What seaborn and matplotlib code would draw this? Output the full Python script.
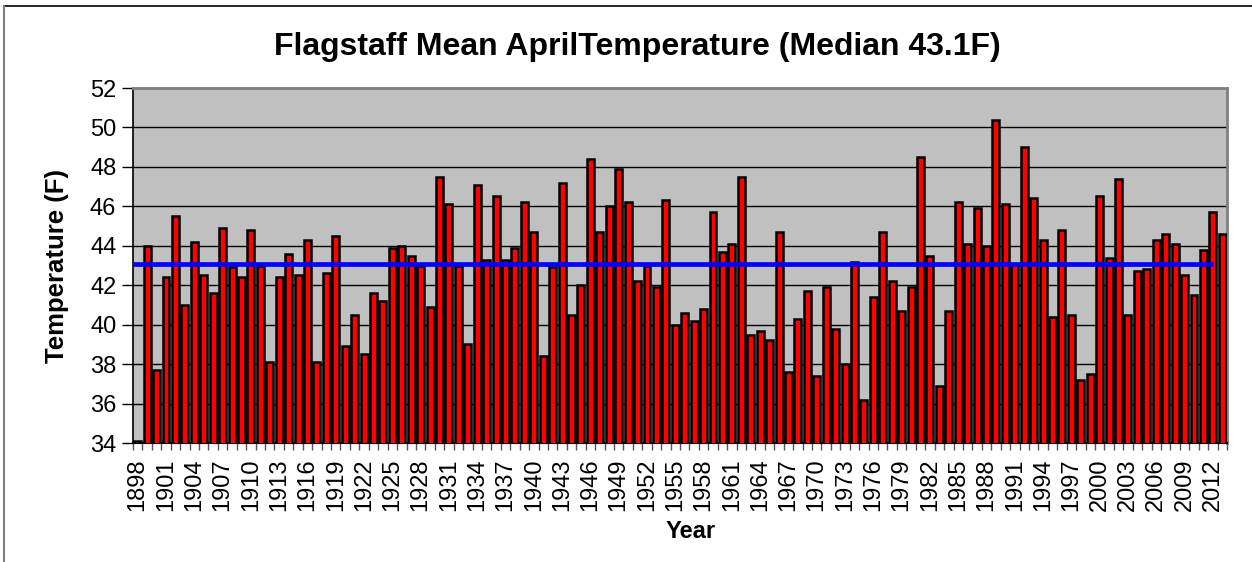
import numpy as np
import pandas as pd
import matplotlib
matplotlib.use("Agg")
import matplotlib.pyplot as plt
from matplotlib.ticker import FixedLocator
import seaborn as sns

# Mean April temperature at Flagstaff, deg F, 1898-2013
years = list(range(1898, 2014))
temps = [
    34.1, 44.0, 37.7, 42.4, 45.5, 41.0, 44.2, 42.5, 41.6, 44.9,   # 1898-1907
    42.9, 42.4, 44.8, 43.0, 38.1, 42.4, 43.6, 42.5, 44.3, 38.1,   # 1908-1917
    42.6, 44.5, 38.9, 40.5, 38.5, 41.6, 41.2, 43.9, 44.0, 43.5,   # 1918-1927
    43.0, 40.9, 47.5, 46.1, 43.0, 39.0, 47.1, 43.3, 46.5, 43.3,   # 1928-1937
    43.9, 46.2, 44.7, 38.4, 42.9, 47.2, 40.5, 42.0, 48.4, 44.7,   # 1938-1947
    46.0, 47.9, 46.2, 42.2, 43.0, 41.9, 46.3, 40.0, 40.6, 40.2,   # 1948-1957
    40.8, 45.7, 43.7, 44.1, 47.5, 39.5, 39.7, 39.2, 44.7, 37.6,   # 1958-1967
    40.3, 41.7, 37.4, 41.9, 39.8, 38.0, 43.2, 36.2, 41.4, 44.7,   # 1968-1977
    42.2, 40.7, 41.9, 48.5, 43.5, 36.9, 40.7, 46.2, 44.1, 45.9,   # 1978-1987
    44.0, 50.4, 46.1, 43.1, 49.0, 46.4, 44.3, 40.4, 44.8, 40.5,   # 1988-1997
    37.2, 37.5, 46.5, 43.4, 47.4, 40.5, 42.7, 42.8, 44.3, 44.6,   # 1998-2007
    44.1, 42.5, 41.5, 43.8, 45.7, 44.6,                           # 2008-2013
]
median_temp = 43.1
title = "Flagstaff Mean AprilTemperature (Median 43.1F)"
y_label = "Temperature (F)"
x_label = "Year"
y_ticks = list(range(34, 53, 2))

df = pd.DataFrame({"Year": [str(y) for y in years], "Temp": temps})

sns.set_style("white")
plt.rcParams["font.family"] = ["Liberation Sans", "DejaVu Sans"]
plt.rcParams["text.color"] = "black"
plt.rcParams["xtick.color"] = "black"
plt.rcParams["ytick.color"] = "black"
plt.rcParams["axes.labelcolor"] = "black"

fig = plt.figure(figsize=(12.52, 5.62), dpi=100)
ax = fig.add_axes([133 / 1252, 1 - 443 / 562, (1227 - 133) / 1252, (443 - 88) / 562])
ax.set_facecolor("#C0C0C0")

sns.barplot(data=df, x="Year", y="Temp", color="#FF0000", saturation=1,
            edgecolor="black", linewidth=1.8, width=0.74, ax=ax, zorder=3)

n = len(years)
ax.hlines(median_temp, -0.5, n - 2, color="#0000FF", linewidth=3.4, zorder=4)

ax.set_xlim(-0.5, n - 0.5)
ax.set_ylim(y_ticks[0], y_ticks[-1])
ax.set_yticks(y_ticks)
ax.yaxis.grid(True, color="black", linewidth=1.0, zorder=1)
ax.set_axisbelow(True)

# category labels every third year, tick marks on category boundaries
label_pos = list(range(0, n, 3))
ax.xaxis.set_major_locator(FixedLocator(label_pos))
ax.set_xticklabels([str(years[i]) for i in label_pos], rotation=90, fontsize=17)
ax.xaxis.set_minor_locator(FixedLocator(np.arange(-0.5, n, 1.0)))
ax.tick_params(axis="x", which="major", length=0, pad=11, labelcolor="black")
ax.tick_params(axis="x", which="minor", length=5, width=1, color="#555555", direction="out")
ax.tick_params(axis="y", which="major", length=8, width=1, color="black",
               direction="out", labelsize=17, pad=4, labelcolor="black")
ax.tick_params(left=True, bottom=True, which="both")

ax.set_xlabel("")
ax.set_ylabel("")

for side in ["top", "right"]:
    ax.spines[side].set_color("#808080")
    ax.spines[side].set_linewidth(2)
ax.spines["left"].set_color("black")
ax.spines["left"].set_linewidth(1.2)
ax.spines["bottom"].set_color("black")
ax.spines["bottom"].set_linewidth(1.5)

fig.text(637 / 1252, 1 - 47 / 562, title, ha="center", va="center",
         fontsize=23, fontweight="bold", color="black")
fig.text(57 / 1252, 1 - 266 / 562, y_label, ha="center", va="center",
         rotation=90, fontsize=18.5, fontweight="bold", color="black")
fig.text(691 / 1252, 1 - 532 / 562, x_label, ha="center", va="center",
         fontsize=17, fontweight="bold", color="black")

# chart frame
fig.add_artist(plt.Line2D([4 / 1252, 1], [1 - 6 / 562, 1 - 6 / 562],
                          transform=fig.transFigure, color="black", linewidth=1.2))
fig.add_artist(plt.Line2D([4 / 1252, 4 / 1252], [0, 1 - 6 / 562],
                          transform=fig.transFigure, color="#808080", linewidth=1.5))

fig.savefig("out.png", dpi=100)
